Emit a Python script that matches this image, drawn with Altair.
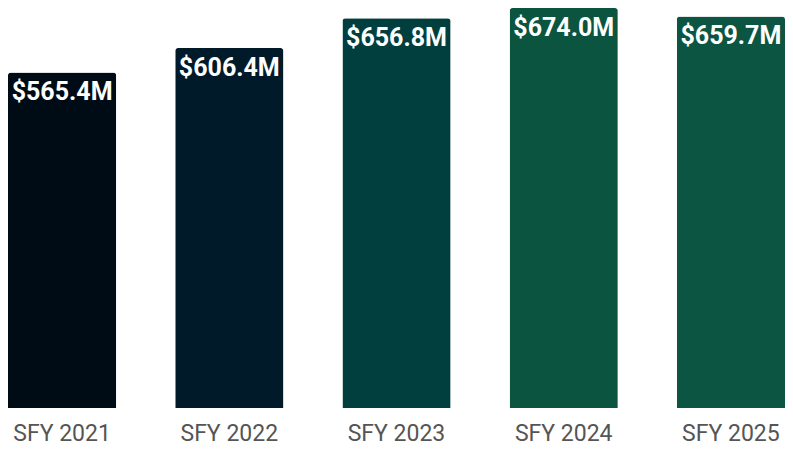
import altair as alt
import pandas as pd

categories = ["SFY 2021", "SFY 2022", "SFY 2023", "SFY 2024", "SFY 2025"]
values = [565.4, 606.4, 656.8, 674.0, 659.7]
labels = ["$565.4M", "$606.4M", "$656.8M", "$674.0M", "$659.7M"]
colors = ["#000c15", "#011a2a", "#013f3f", "#0a5440", "#0b5542"]

df = pd.DataFrame({"cat": categories, "val": values, "lab": labels})

x = alt.X("cat:N", sort=categories, title=None,
          scale=alt.Scale(paddingInner=0.353, paddingOuter=0),
          axis=alt.Axis(labelAngle=0, domain=False, ticks=False, labelPadding=14,
                        labelFont="Roboto", labelFontSize=23, labelColor="#555555"))
y = alt.Y("val:Q", title=None, scale=alt.Scale(domain=[0, 674], nice=False, zero=True),
          axis=None)

bars = alt.Chart(df).mark_bar(cornerRadiusTopLeft=3, cornerRadiusTopRight=3).encode(
    x=x, y=y,
    color=alt.Color("cat:N", sort=categories,
                    scale=alt.Scale(domain=categories, range=colors), legend=None),
)

text = alt.Chart(df).mark_text(baseline="top", dy=8, align="center", color="white",
                               font="Roboto", fontSize=25, fontWeight="bold").encode(
    x=alt.X("cat:N", sort=categories), y=y, text="lab:N"
)

chart = (bars + text).properties(width=777, height=400, padding=0).configure_view(stroke=None)

chart.save("out.html", embed_options={"renderer": "svg", "actions": False})
